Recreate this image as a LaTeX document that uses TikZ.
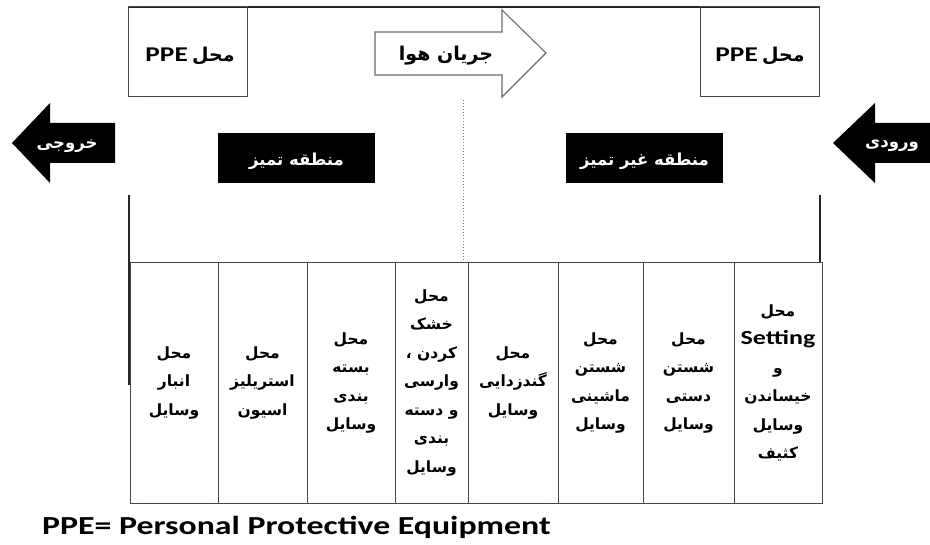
\documentclass[tikz,border=0pt]{standalone}
\usepackage{fontspec}
\TeXXeTstate=1
\setmainfont{Carlito}
\newfontfamily\arfont[Script=Arabic]{DejaVu Sans}
\newcommand\ar[1]{{\arfont\bfseries\beginR #1\endR}}
\newcommand\wide[1]{\scalebox{1.3}[1]{#1}}
\definecolor{edgec}{RGB}{62,72,88}
\begin{document}
\begin{tikzpicture}[x=1pt,y=-1pt,
  ppebox/.style={draw=edgec,line width=1pt,minimum width=119pt,minimum height=90pt,inner sep=0pt},
  ppetext/.style={inner sep=0pt,font=\fontsize{19}{22}\selectfont},
  blackbox/.style={fill=black,minimum width=157pt,minimum height=50pt,inner sep=0pt},
  zonetext/.style={text=white,inner sep=0pt,font=\fontsize{16.5}{20}\selectfont},
  cell/.style={draw=edgec,line width=1pt,minimum height=240pt,inner sep=0pt,align=center,font=\fontsize{15.5}{28.5}\selectfont},
  arrtext/.style={text=white,inner sep=0pt,font=\fontsize{16.5}{20}\selectfont},
  frame/.style={draw=black!85,line width=1.2pt}]
\useasboundingbox (0,0) rectangle (930,545);
% frame
\draw[frame] (128,7) -- (820,7);
\draw[frame,line width=2.5pt] (129,195) -- (129,385);
\draw[frame] (820,195) -- (820,263);
% PPE boxes
\node[ppebox] (ppeL) at (187.5,52) {};
\node[ppetext] (ppeLt) at (190,56) {\beginR\ar{محل} \beginL\wide{\bfseries\fontsize{21}{22}\selectfont PPE}\endL\endR};
\node[ppebox] (ppeR) at (759.5,52) {};
\node[ppetext] (ppeRt) at (760,56) {\beginR\ar{محل} \beginL\wide{\bfseries\fontsize{21}{22}\selectfont PPE}\endL\endR};
% air flow arrow
\draw[draw=edgec!80,line width=1.1pt,fill=white] (375,32) -- (502,32) -- (502,10) -- (546,53) -- (502,97) -- (502,75) -- (375,75) -- cycle;
\node[inner sep=0pt,font=\fontsize{19}{22}\selectfont] (air) at (446,56) {\ar{جریان هوا}};
% dotted divider
\coordinate (dtop) at (463,100);
\coordinate (dbot) at (463,263);
\draw[dotted,line width=1pt,edgec!70] (dtop) -- (dbot);
% zone boxes
\node[blackbox] (clean) at (296.5,158) {};
\node[zonetext] (cleant) at (296.5,161) {\ar{منطقه تمیز}};
\node[blackbox] (dirty) at (644.5,158) {};
\node[zonetext] (dirtyt) at (644.5,161) {\ar{منطقه غیر تمیز}};
% exit / entry arrows
\fill[black] (12,143) -- (50,103) -- (50,123) -- (115,123) -- (115,163) -- (50,163) -- (50,183) -- cycle;
\node[arrtext] (exit) at (67,146) {\ar{خروجی}};
\fill[black] (833,143) -- (875,103) -- (875,123) -- (930,123) -- (930,163) -- (875,163) -- (875,183) -- cycle;
\node[arrtext] (entry) at (892,146) {\ar{ورودی}};
% table cells
\node[cell,minimum width=88pt] (c1) at (174,383) {\ar{محل}\\\ar{انبار}\\\ar{وسایل}};
\node[cell,minimum width=89pt] (c2) at (262.5,383) {\ar{محل}\\\ar{استریلیز}\\\ar{اسیون}};
\node[cell,minimum width=88pt] (c3) at (351,383) {\ar{محل}\\\ar{بسته}\\\ar{بندی}\\\ar{وسایل}};
\node[cell,minimum width=73pt] (c4) at (431.5,383) {\ar{محل}\\\ar{خشک}\\\ar{کردن ،}\\\ar{وارسی}\\\ar{و دسته}\\\ar{بندی}\\\ar{وسایل}};
\node[cell,minimum width=90pt] (c5) at (513,383) {\ar{محل}\\\ar{گندزدایی}\\\ar{وسایل}};
\node[cell,minimum width=85pt] (c6) at (600.5,383) {\ar{محل}\\\ar{شستن}\\\ar{ماشینی}\\\ar{وسایل}};
\node[cell,minimum width=91pt] (c7) at (688.5,383) {\ar{محل}\\\ar{شستن}\\\ar{دستی}\\\ar{وسایل}};
\node[cell,minimum width=88pt] (c8) at (778,383) {\ar{محل}\\\wide{\bfseries\fontsize{20}{28}\selectfont Setting}\\\ar{و}\\\ar{خیساندن}\\\ar{وسایل}\\\ar{کثیف}};
% footnote
\node[anchor=west,inner sep=0pt,font=\bfseries\fontsize{26}{30}\selectfont] (foot) at (42,527) {\wide{PPE= Personal Protective Equipment}};
\end{tikzpicture}
\end{document}
